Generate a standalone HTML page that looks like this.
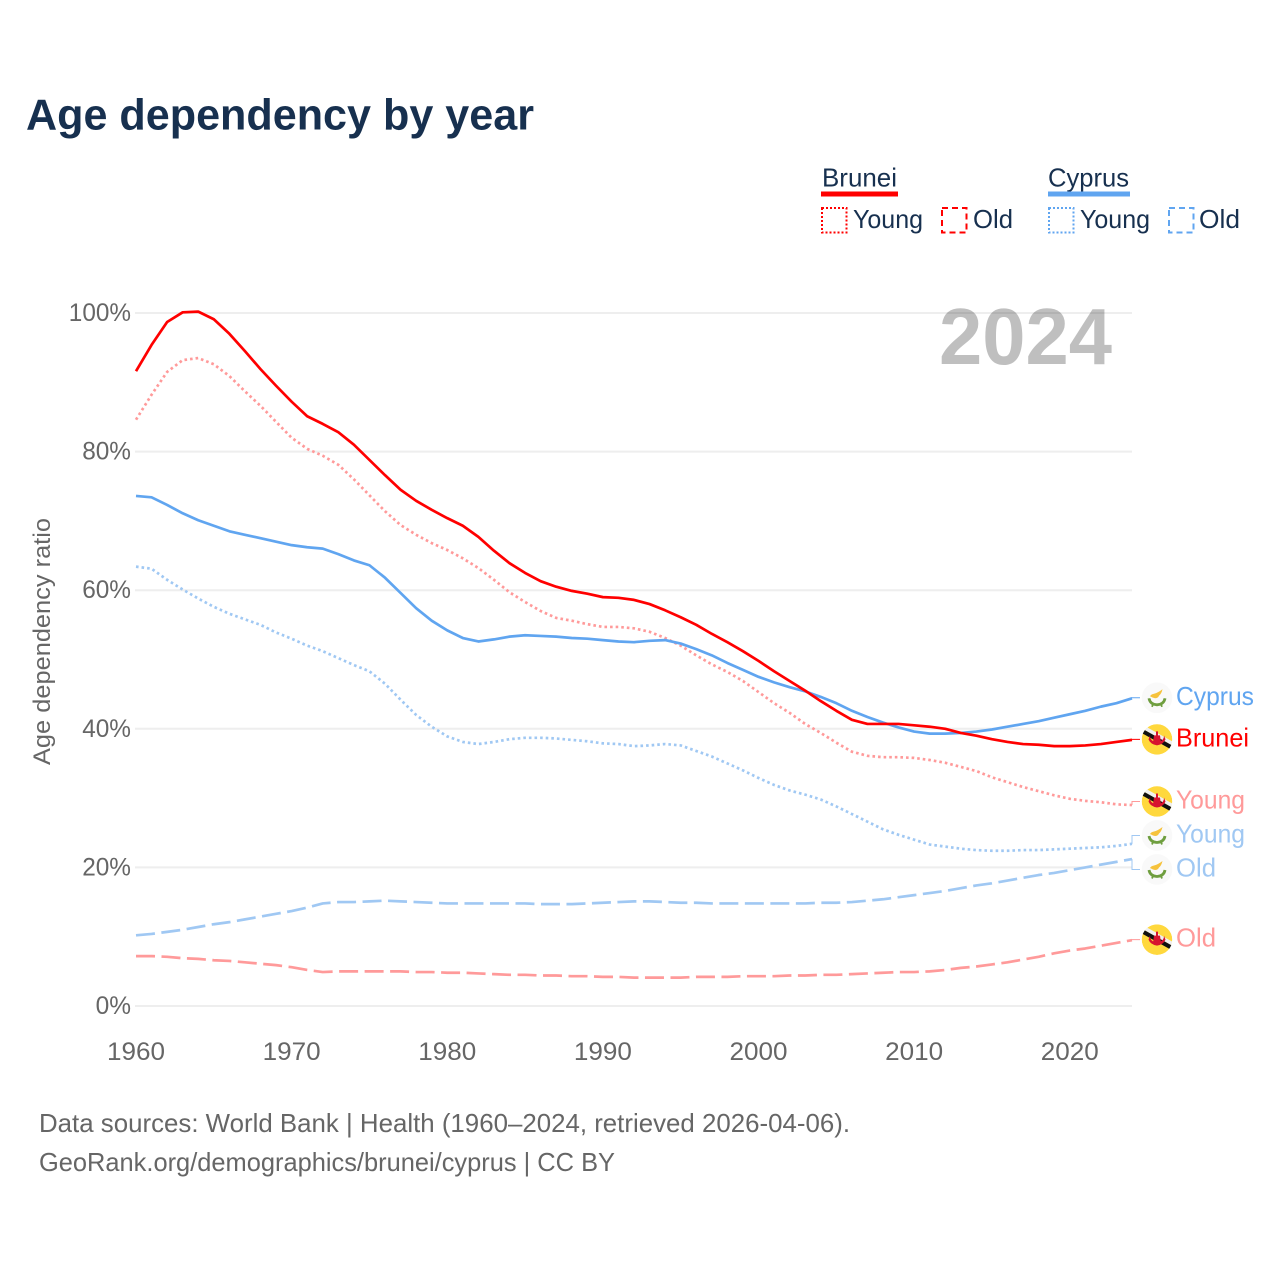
<!DOCTYPE html>
<html lang="en">
<head>
<meta charset="utf-8">
<title>Age dependency by year</title>
<style>
html,body{margin:0;padding:0;background:#fff;}
svg{display:block;font-family:"Liberation Sans",sans-serif;}
</style>
</head>
<body>
<svg id="chart" xmlns="http://www.w3.org/2000/svg" width="1280" height="1280" viewBox="0 0 1280 1280">
  <rect x="0" y="0" width="1280" height="1280" fill="#fff"/>
  <text x="26" y="129.500" font-size="44" font-weight="700" fill="#17304f" textLength="508" lengthAdjust="spacingAndGlyphs">Age dependency by year</text>

  <g font-size="26" fill="#17304f">
    <text x="822" y="186.500" textLength="75" lengthAdjust="spacingAndGlyphs">Brunei</text>
    <rect x="821" y="191.500" width="77" height="5" fill="#ff0000"/>
    <rect x="822" y="208" width="24.500" height="24.500" fill="none" stroke="#ff0000" stroke-width="2" stroke-dasharray="2 2"/>
    <text x="853" y="228" textLength="70" lengthAdjust="spacingAndGlyphs">Young</text>
    <rect x="942" y="208" width="24.500" height="24.500" fill="none" stroke="#ff0000" stroke-width="2" stroke-dasharray="6 4"/>
    <text x="973" y="228" textLength="40" lengthAdjust="spacingAndGlyphs">Old</text>

    <text x="1048" y="186.500" textLength="81" lengthAdjust="spacingAndGlyphs">Cyprus</text>
    <rect x="1048" y="191.500" width="82" height="5" fill="#60a5f0"/>
    <rect x="1049" y="208" width="24.500" height="24.500" fill="none" stroke="#60a5f0" stroke-width="2" stroke-dasharray="2 2"/>
    <text x="1080" y="228" textLength="70" lengthAdjust="spacingAndGlyphs">Young</text>
    <rect x="1169" y="208" width="24.500" height="24.500" fill="none" stroke="#60a5f0" stroke-width="2" stroke-dasharray="6 4"/>
    <text x="1199" y="228" textLength="41" lengthAdjust="spacingAndGlyphs">Old</text>
  </g>

  <g id="grid"></g>
  <g id="y-ticks"></g>
  <g id="x-ticks"></g>
  <text transform="translate(50 641.500) rotate(-90)" text-anchor="middle" font-size="24.500" fill="#666" textLength="247" lengthAdjust="spacingAndGlyphs">Age dependency ratio</text>
  <text x="939" y="364" font-size="80" font-weight="700" fill="#000" fill-opacity="0.25" textLength="173" lengthAdjust="spacingAndGlyphs">2024</text>
  <g id="series"></g>
  <g id="end-labels"></g>

  <g font-size="26" fill="#666">
    <text x="39" y="1132" textLength="811" lengthAdjust="spacingAndGlyphs">Data sources: World Bank | Health (1960–2024, retrieved 2026-04-06).</text>
    <text x="39" y="1171" textLength="576" lengthAdjust="spacingAndGlyphs">GeoRank.org/demographics/brunei/cyprus | CC BY</text>
  </g>
</svg>
<script>
const startYear = 1960;
const endYear = 2024;
const xTickYears = [1960, 1970, 1980, 1990, 2000, 2010, 2020];
const yTickValues = [0, 20, 40, 60, 80, 100];

const bruneiTotal = [
  91.6, 95.4, 98.7, 100.1, 100.2, 99.1, 97.0, 94.5, 91.9, 89.5,
  87.2, 85.1, 84.0, 82.8, 81.0, 78.8, 76.6, 74.5, 72.9, 71.6,
  70.4, 69.3, 67.7, 65.7, 63.9, 62.5, 61.3, 60.5, 59.9, 59.5,
  59.0, 58.9, 58.6, 58.0, 57.1, 56.1, 55.0, 53.7, 52.5, 51.2,
  49.8, 48.3, 46.9, 45.5, 44.0, 42.6, 41.3, 40.7, 40.7, 40.7,
  40.5, 40.3, 40.0, 39.4, 39.0, 38.5, 38.1, 37.8, 37.7, 37.5,
  37.5, 37.6, 37.8, 38.1, 38.4
];
const bruneiYoung = [
  84.6, 88.2, 91.5, 93.2, 93.5, 92.6, 90.9, 88.7, 86.6, 84.3,
  82.0, 80.4, 79.4, 78.1, 76.0, 73.7, 71.4, 69.4, 68.0, 66.8,
  65.8, 64.6, 63.2, 61.5, 59.7, 58.3, 57.0, 56.0, 55.6, 55.1,
  54.7, 54.7, 54.5, 54.0, 53.1, 52.0, 50.6, 49.3, 48.2, 46.9,
  45.3, 43.7, 42.3, 40.7, 39.4, 38.0, 36.7, 36.1, 35.9, 35.9,
  35.8, 35.5, 35.1, 34.5, 33.9, 33.0, 32.3, 31.6, 31.0, 30.4,
  29.9, 29.6, 29.4, 29.1, 29.0
];
const bruneiOld = [
  7.2, 7.2, 7.1, 6.9, 6.8, 6.6, 6.5, 6.3, 6.1, 5.9,
  5.6, 5.2, 4.9, 5.0, 5.0, 5.0, 5.0, 5.0, 4.9, 4.9,
  4.8, 4.8, 4.7, 4.6, 4.5, 4.5, 4.4, 4.4, 4.3, 4.3,
  4.2, 4.2, 4.1, 4.1, 4.1, 4.1, 4.2, 4.2, 4.2, 4.3,
  4.3, 4.3, 4.4, 4.4, 4.5, 4.5, 4.6, 4.7, 4.8, 4.9,
  4.9, 5.0, 5.2, 5.5, 5.7, 6.0, 6.3, 6.7, 7.1, 7.6,
  8.0, 8.3, 8.7, 9.1, 9.5
];
const cyprusTotal = [
  73.6, 73.4, 72.3, 71.1, 70.1, 69.3, 68.5, 68.0, 67.5, 67.0,
  66.5, 66.2, 66.0, 65.2, 64.3, 63.6, 61.8, 59.6, 57.4, 55.6,
  54.2, 53.1, 52.6, 52.9, 53.3, 53.5, 53.4, 53.3, 53.1, 53.0,
  52.8, 52.6, 52.5, 52.7, 52.8, 52.3, 51.5, 50.6, 49.5, 48.5,
  47.5, 46.7, 46.0, 45.4, 44.6, 43.7, 42.6, 41.7, 40.9, 40.2,
  39.6, 39.3, 39.3, 39.4, 39.6, 39.9, 40.3, 40.7, 41.1, 41.6,
  42.1, 42.6, 43.2, 43.7, 44.4
];
const cyprusYoung = [
  63.4, 63.1, 61.5, 60.1, 58.8, 57.6, 56.6, 55.8, 55.0, 53.9,
  53.0, 52.0, 51.2, 50.2, 49.2, 48.3, 46.5, 44.2, 42.0, 40.3,
  38.9, 38.1, 37.8, 38.1, 38.5, 38.7, 38.7, 38.6, 38.4, 38.2,
  37.9, 37.8, 37.5, 37.6, 37.8, 37.6, 36.8, 36.0, 35.0, 34.0,
  32.9, 31.9, 31.1, 30.5, 29.8, 28.8, 27.7, 26.6, 25.5, 24.7,
  24.0, 23.3, 23.0, 22.7, 22.5, 22.4, 22.4, 22.5, 22.5, 22.6,
  22.7, 22.8, 22.9, 23.1, 23.4
];
const cyprusOld = [
  10.2, 10.4, 10.7, 11.0, 11.4, 11.8, 12.1, 12.5, 12.9, 13.3,
  13.7, 14.2, 14.8, 15.0, 15.0, 15.1, 15.2, 15.1, 15.0, 14.9,
  14.8, 14.8, 14.8, 14.8, 14.8, 14.8, 14.7, 14.7, 14.7, 14.8,
  14.9, 15.0, 15.1, 15.1, 15.0, 14.9, 14.9, 14.8, 14.8, 14.8,
  14.8, 14.8, 14.8, 14.8, 14.9, 14.9, 15.0, 15.2, 15.4, 15.7,
  16.0, 16.3, 16.6, 17.0, 17.4, 17.7, 18.1, 18.5, 18.9, 19.2,
  19.6, 20.0, 20.4, 20.8, 21.2
];

const SVGNS = 'http://www.w3.org/2000/svg';
const PLOT = { left: 136, right: 1132, top: 313, bottom: 1006 };
const STYLE_SOLID = '';
const STYLE_DOT = '2.6 3';
const STYLE_DASH = '19 6.5';
const COLORS = { brunei: '#ff0000', cyprus: '#60a5f0', bruneiLight: '#ff9a9a', cyprusLight: '#a0c8f3' };

function xScale(year) {
  return PLOT.left + (year - startYear) / (endYear - startYear) * (PLOT.right - PLOT.left);
}
function yScale(v) {
  return PLOT.bottom - v / 100 * (PLOT.bottom - PLOT.top);
}
function make(tag, attrs, parent) {
  const el = document.createElementNS(SVGNS, tag);
  for (const k in attrs) el.setAttribute(k, attrs[k]);
  if (parent) parent.appendChild(el);
  return el;
}

const gridG = document.getElementById('grid');
const yTickG = document.getElementById('y-ticks');
yTickValues.forEach(function (v) {
  const line = make('line', { x1: PLOT.left - 1, x2: PLOT.right, y1: yScale(v), y2: yScale(v), stroke: '#eeeeee', 'stroke-width': 2 }, gridG);
  
  
  const label = v + '%';
  const t = make('text', { x: 131, y: yScale(v) + 8, 'text-anchor': 'end', 'font-size': 25, fill: '#666', textLength: (label.length - 1) * 13.4 + 22, lengthAdjust: 'spacingAndGlyphs' }, yTickG);
  t.textContent = label;
  
  
});

const xTickG = document.getElementById('x-ticks');
xTickYears.forEach(function (yr) {
  const t = make('text', { x: xScale(yr), y: 1060, 'text-anchor': 'middle', 'font-size': 25, fill: '#666', textLength: 58, lengthAdjust: 'spacingAndGlyphs' }, xTickG);
  t.textContent = String(yr);
  
  
});

const seriesList = [
  { name: 'brunei-old', label: 'Old', values: bruneiOld, color: COLORS.bruneiLight, dash: STYLE_DASH, flag: 'brunei', width: 40 },
  { name: 'cyprus-old', label: 'Old', values: cyprusOld, color: COLORS.cyprusLight, dash: STYLE_DASH, flag: 'cyprus', width: 40 },
  { name: 'cyprus-young', label: 'Young', values: cyprusYoung, color: COLORS.cyprusLight, dash: STYLE_DOT, flag: 'cyprus', width: 69 },
  { name: 'brunei-young', label: 'Young', values: bruneiYoung, color: COLORS.bruneiLight, dash: STYLE_DOT, flag: 'brunei', width: 69 },
  { name: 'cyprus-total', label: 'Cyprus', values: cyprusTotal, color: COLORS.cyprus, dash: STYLE_SOLID, flag: 'cyprus', width: 78 },
  { name: 'brunei-total', label: 'Brunei', values: bruneiTotal, color: COLORS.brunei, dash: STYLE_SOLID, flag: 'brunei', width: 73 }
];

const seriesG = document.getElementById('series');
seriesList.forEach(function (s) {
  const pts = s.values.map(function (v, i) {
    return xScale(startYear + i).toFixed(2) + ',' + yScale(v).toFixed(2);
  }).join(' ');
  const line = make('polyline', { points: pts, fill: 'none', stroke: s.color, 'stroke-width': 2.7, 'stroke-linejoin': 'round' }, seriesG);
  if (s.dash) line.setAttribute('stroke-dasharray', s.dash);
  
  
});

/* End labels: de-collide by merging overlapping clusters, keeping each cluster's mean. */
const MIN_GAP = 34;
const placed = seriesList.map(function (s) {
  return { s: s, lineY: yScale(s.values[s.values.length - 1]) };
}).sort(function (a, b) { return a.lineY - b.lineY; });
let clusters = placed.map(function (p) { return { items: [p], mean: p.lineY }; });
let merged = true;
while (merged) {
  merged = false;
  for (let i = 0; i < clusters.length - 1; i++) {
    const a = clusters[i], b = clusters[i + 1];
    const aEnd = a.mean + (a.items.length - 1) * MIN_GAP / 2;
    const bStart = b.mean - (b.items.length - 1) * MIN_GAP / 2;
    if (bStart - aEnd < MIN_GAP) {
      const items = a.items.concat(b.items);
      const mean = items.reduce(function (t, p) { return t + p.lineY; }, 0) / items.length;
      clusters.splice(i, 2, { items: items, mean: mean });
      merged = true;
      break;
    }
  }
}
clusters.forEach(function (c) {
  c.items.forEach(function (p, i) {
    p.labelY = c.mean + (i - (c.items.length - 1) / 2) * MIN_GAP - 0.5;
  });
});

let flagCount = 0;
function drawFlag(kind, cx, cy, parent) {
  flagCount += 1;
  const g = make('g', { transform: 'translate(' + cx + ' ' + cy + ')' }, parent);
  
  
  if (kind === 'brunei') {
    const clipId = 'flag-clip-' + flagCount;
    const clip = make('clipPath', { id: clipId }, g);
    make('circle', { r: 15.3 }, clip);
    const inner = make('g', { 'clip-path': 'url(#' + clipId + ')' }, g);
    make('circle', { r: 15.3, fill: '#ffd83d' }, inner);
    make('polygon', { points: '-16,-15.5 16,2.4 16,6.5 -16,-11.4', fill: '#f0f0f0' }, inner);
    make('polygon', { points: '-16,-11.4 16,6.5 16,11.2 -16,-6.7', fill: '#111111' }, inner);
    make('path', { d: 'M-1,-8 h2 v4 h-2z M-3,-4 h6 l1,7 h-8z M-7,-4 q0,6 7,7 q7,-1 7,-7 l1.5,4 q-2,5 -8.500,6 q-6.500,-1 -8.500,-6z', fill: '#d7132f' }, inner);
  } else {
    make('circle', { r: 15.3, fill: '#f9f9f9' }, g);
    make('path', { d: 'M-7,-1.500 q1,-2 4,-2.500 q4,-1 8.500,-4.500 q-1,4.500 -3.500,6.500 q-1,2.500 -4,2.500 q-2.500,-0.500 -5,-2z', fill: '#f6c23c' }, g);
    make('path', { d: 'M-8,0.500 q1,6 8,6.500 q7,-0.500 8,-6.500', fill: 'none', stroke: '#6f9e3f', 'stroke-width': 2.8 }, g);
    make('path', { d: 'M-4,6.500 l-1,2.500 M4,6.500 l1,2.500', fill: 'none', stroke: '#6f9e3f', 'stroke-width': 1.8 }, g);
  }
}

const labelG = document.getElementById('end-labels');
placed.forEach(function (p) {
  const s = p.s;
  const g = make('g', {}, labelG);
  
  
  const conn = make('path', { d: 'M' + PLOT.right + ' ' + p.lineY + ' V' + p.labelY + ' H1140', fill: 'none', stroke: s.color, 'stroke-width': 1 }, g);
  
  
  drawFlag(s.flag, 1157, p.labelY, g);
  const t = make('text', { x: 1176, y: p.labelY + 7, 'font-size': 26, fill: s.color, textLength: s.width, lengthAdjust: 'spacingAndGlyphs' }, g);
  t.textContent = s.label;
  
  
});
</script>
</body>
</html>
